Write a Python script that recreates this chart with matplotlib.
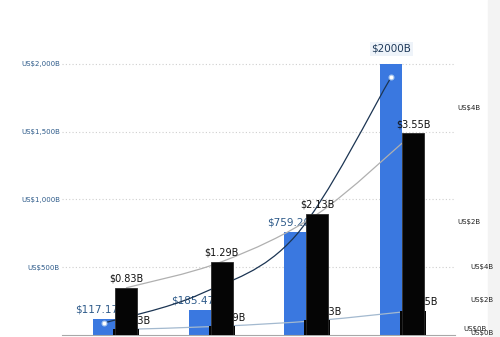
import numpy as np
import matplotlib
matplotlib.use('Agg')
import matplotlib.pyplot as plt
from matplotlib.path import Path
from matplotlib.patches import PathPatch, Rectangle
from matplotlib.ticker import FuncFormatter

# values
groups = [0, 1, 2, 3]
market_size = [117.17, 185.47, 759.20, 2000]          # US$ B, left axis
market_labels = ['$117.17', '$185.47', '$759.20', '$2000B']
revenue = [0.83, 1.29, 2.13, 3.55]                    # US$ B, right axis
revenue_labels = ['$0.83B', '$1.29B', '$2.13B', '$3.55B']
trend = [88, 300, 730, 1900]                          # dark curve, left axis units

left_ticks = [500, 1000, 1500, 2000]
right_ticks = [2, 4]
right_ticks_b = [0, 2, 4]
right_ticks_c = [0]

BLUE = '#3a78e0'
LABEL_BLUE = '#2e5b8a'


def smooth_path(xs, ys):
    # catmull-rom through the points, as bezier segments
    pts = np.column_stack([xs, ys]).astype(float)
    ext = np.vstack([pts[0], pts, pts[-1]])
    verts = [pts[0]]
    codes = [Path.MOVETO]
    for i in range(len(pts) - 1):
        p0, p1, p2, p3 = ext[i], ext[i + 1], ext[i + 2], ext[i + 3]
        verts += [p1 + (p2 - p0) / 6, p2 - (p3 - p1) / 6, p2]
        codes += [Path.CURVE4] * 3
    return Path(verts, codes)


fig = plt.figure(figsize=(5, 3.37), dpi=100)
fig.patches.append(Rectangle((0.976, 0), 0.024, 1, transform=fig.transFigure,
                             color='#f3f3f3', zorder=-1))
ax = fig.add_axes([0.124, 0.006, 0.786, 0.807])

x = np.array(groups, dtype=float)
w = 0.23
xb = x - w / 2
xk = x + w / 2

# left axis: market size
ax.bar(xb, market_size, width=w, color=BLUE, zorder=2)
for i, (xx, v, lab) in enumerate(zip(xb, market_size, market_labels)):
    if i == len(market_size) - 1:
        ax.annotate(lab, (xx, v), xytext=(0, 7), textcoords='offset points',
                    ha='center', va='bottom', fontsize=7.5, color='#1f3a5a',
                    zorder=3, annotation_clip=False,
                    bbox=dict(boxstyle='square,pad=0.15', fc='#eef3f9', ec='none'))
    else:
        ax.annotate(lab, (xx, v), xytext=(-5, 3), textcoords='offset points',
                    ha='center', va='bottom', fontsize=7.5, color=LABEL_BLUE,
                    zorder=3)
ax.add_patch(PathPatch(smooth_path(xb, trend), fill=False, ec='#1c3553',
                       lw=0.9, zorder=4))
ax.plot(xb[[0, -1]], np.array(trend)[[0, -1]], 'o', mfc='white', mec='#a8c8f0',
        ms=3.5, mew=0.8, zorder=5)

ax.set_xlim(-0.554, 3.553)
ax.set_ylim(0, 2005)
ax.set_yticks(left_ticks)
ax.yaxis.set_major_formatter(FuncFormatter(lambda v, p: 'US${:,.0f}B'.format(v)))
ax.tick_params(axis='y', length=0, pad=1.5, labelsize=5, labelcolor=LABEL_BLUE)
ax.tick_params(axis='x', length=0, labelbottom=False)
ax.set_xticks([])
ax.grid(axis='y', color='#cfcfcf', lw=0.8, linestyle=(0, (1, 2)))
ax.set_axisbelow(True)
for s in ['top', 'left', 'right']:
    ax.spines[s].set_visible(False)
ax.spines['bottom'].set_color('#a8a8a8')

# hidden duplicate of the revenue series, tiny scale
ax_s = ax.twinx()
ax_s.set_ylim(0, 40)
ax_s.add_patch(PathPatch(smooth_path(xk, revenue), fill=False, ec='#a3b9cf',
                         lw=0.9, zorder=1))
ax_s.bar(xk, revenue, width=0.27, color='#050505', zorder=2)
for xx, v, lab in zip(xk, revenue, revenue_labels):
    ax_s.annotate(lab, (xx, v), xytext=(5, 3), textcoords='offset points',
                  ha='center', va='bottom', fontsize=7, color='#111111', zorder=3)
ax_s.set_yticks([])
ax_s.axis('off')

# right axis: revenue
ax2 = ax.twinx()
ax2.set_ylim(0, 4.79)
ax2.add_patch(PathPatch(smooth_path(xk, revenue), fill=False, ec='#b0b0b0',
                        lw=0.9, zorder=1))
ax2.bar(xk, revenue, width=w, color='#050505', edgecolor='#2a2a2a', lw=0.6, zorder=2)
for xx, v, lab in zip(xk, revenue, revenue_labels):
    ax2.annotate(lab, (xx, v), xytext=(0, 3), textcoords='offset points',
                 ha='center', va='bottom', fontsize=7, color='#111111', zorder=3)
ax2.set_yticks(right_ticks)
ax2.yaxis.set_major_formatter(FuncFormatter(lambda v, p: 'US${:.0f}B'.format(v)))
ax2.tick_params(axis='y', length=0, pad=1.5, labelsize=5, labelcolor='#222222')
for s in ax2.spines.values():
    s.set_visible(False)

# extra overlapping right-hand scales
ax3 = ax.twinx()
ax3.set_ylim(-0.121, 16.36)
ax3.spines['right'].set_position(('outward', 9.4))
ax3.set_yticks(right_ticks_b)
ax3.yaxis.set_major_formatter(FuncFormatter(lambda v, p: 'US${:.0f}B'.format(v)))
ax3.tick_params(axis='y', length=0, pad=1.5, labelsize=5, labelcolor='#222222')
for s in ax3.spines.values():
    s.set_visible(False)

ax4 = ax.twinx()
ax4.set_ylim(-0.364, 16.12)
ax4.spines['right'].set_position(('outward', 4.3))
ax4.set_yticks(right_ticks_c)
ax4.yaxis.set_major_formatter(FuncFormatter(lambda v, p: 'US${:.0f}B'.format(v)))
ax4.tick_params(axis='y', length=0, pad=1.5, labelsize=5, labelcolor='#222222')
for s in ax4.spines.values():
    s.set_visible(False)

fig.savefig('out.png', dpi=100)
